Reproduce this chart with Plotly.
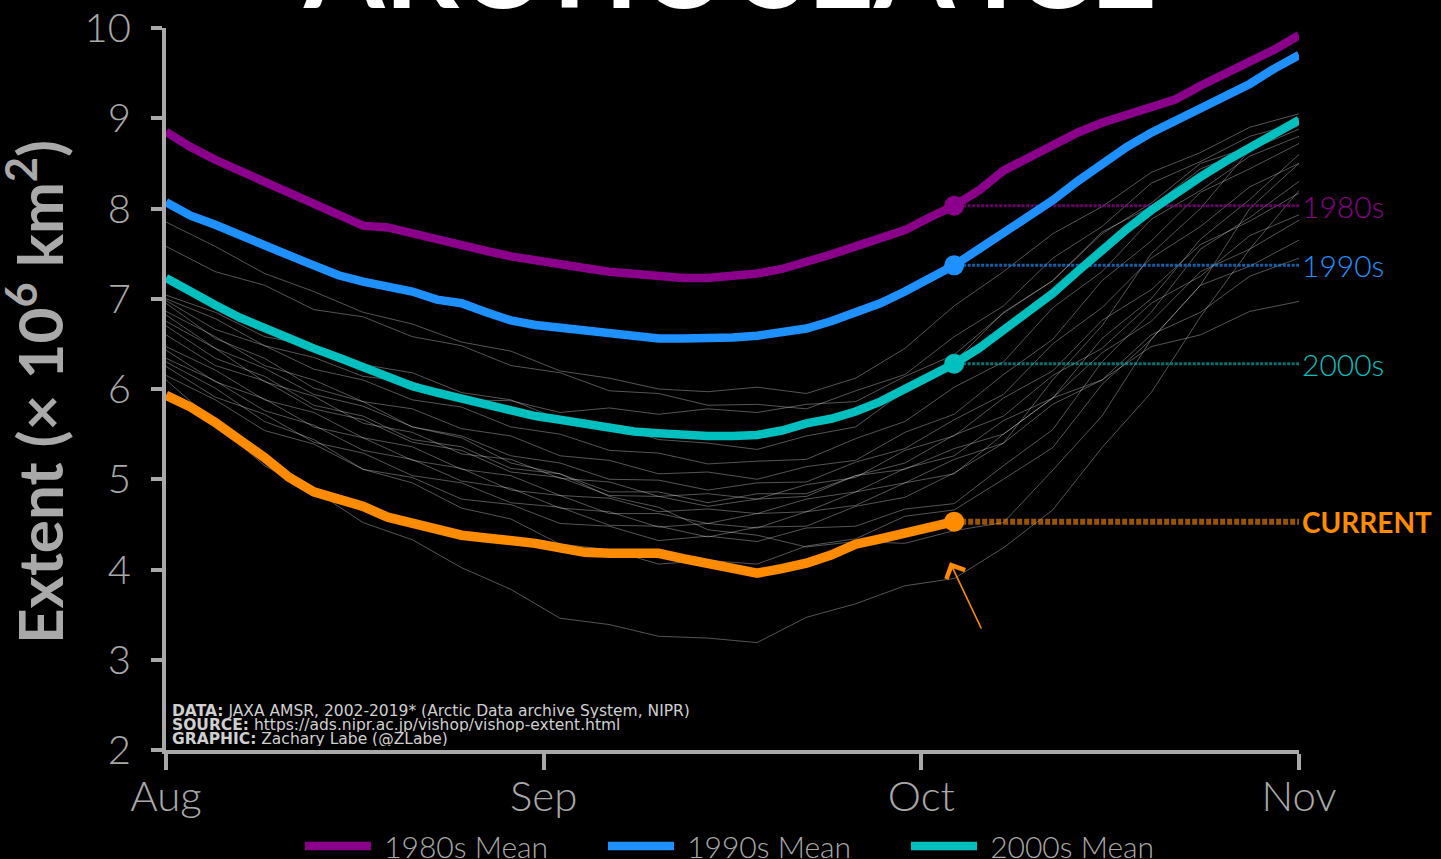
import plotly.graph_objects as go

# ---------------- data (days since Aug 1) ----------------
days_2 = list(range(0, 93, 2))      # means, every 2 days Aug 1 .. Nov 1
days_4 = list(range(0, 93, 4))      # individual years, every 4 days
days_cur = list(range(0, 65, 2))    # current year, up to early October

month_labels = ["Aug", "Sep", "Oct", "Nov"]
y_ticks = [2, 3, 4, 5, 6, 7, 8, 9, 10]

mean_1980s = [8.85, 8.68, 8.54, 8.42, 8.30, 8.17, 8.06, 7.92, 7.81, 7.79, 7.72, 7.66,
              7.60, 7.53, 7.47, 7.42, 7.37, 7.34, 7.30, 7.27, 7.25, 7.23, 7.23, 7.25,
              7.28, 7.33, 7.40, 7.49, 7.58, 7.66, 7.76, 7.90, 8.03, 8.20, 8.42, 8.56,
              8.70, 8.84, 8.95, 9.03, 9.13, 9.21, 9.36, 9.49, 9.62, 9.76, 9.92]
mean_1990s = [8.07, 7.92, 7.82, 7.70, 7.60, 7.48, 7.37, 7.26, 7.19, 7.13, 7.08, 6.99,
              6.95, 6.85, 6.76, 6.71, 6.68, 6.64, 6.61, 6.58, 6.56, 6.56, 6.56, 6.57,
              6.59, 6.63, 6.67, 6.75, 6.84, 6.95, 7.08, 7.22, 7.37, 7.55, 7.73, 7.91,
              8.09, 8.30, 8.50, 8.68, 8.84, 8.98, 9.12, 9.26, 9.38, 9.55, 9.70]
mean_2000s = [7.23, 7.07, 6.93, 6.79, 6.67, 6.56, 6.45, 6.35, 6.24, 6.13, 6.03, 5.96,
              5.89, 5.82, 5.76, 5.70, 5.66, 5.61, 5.57, 5.53, 5.51, 5.49, 5.48, 5.48,
              5.49, 5.54, 5.62, 5.67, 5.75, 5.86, 6.00, 6.14, 6.28, 6.45, 6.65, 6.85,
              7.06, 7.30, 7.54, 7.77, 7.98, 8.17, 8.35, 8.52, 8.68, 8.84, 8.98]
current = [5.93, 5.80, 5.63, 5.44, 5.24, 5.02, 4.86, 4.78, 4.70, 4.58, 4.51, 4.44,
           4.38, 4.35, 4.33, 4.29, 4.24, 4.19, 4.18, 4.19, 4.18, 4.12, 4.06, 4.00,
           3.96, 4.01, 4.07, 4.16, 4.28, 4.34, 4.41, 4.47, 4.53]

grey_01 = [7.85, 7.58, 7.28, 7.08, 6.85, 6.72, 6.52, 6.42, 6.20, 6.12, 6.00, 5.97, 6.02, 5.95, 6.12, 6.45, 6.92, 7.30, 7.72, 8.02, 8.40, 8.62, 8.90, 9.05]
grey_02 = [7.58, 7.30, 7.15, 6.88, 6.80, 6.58, 6.48, 6.26, 6.18, 5.98, 5.95, 5.82, 5.83, 5.78, 5.98, 6.16, 6.58, 6.92, 7.45, 7.80, 8.28, 8.52, 8.80, 8.95]
grey_03 = [7.04, 6.85, 6.58, 6.48, 6.27, 6.18, 5.96, 5.88, 5.66, 5.60, 5.44, 5.40, 5.33, 5.48, 5.58, 5.98, 6.30, 6.85, 7.20, 7.74, 8.02, 8.44, 8.65, 8.88]
grey_04 = [6.98, 6.66, 6.48, 6.22, 6.10, 5.88, 5.80, 5.58, 5.50, 5.32, 5.29, 5.17, 5.20, 5.22, 5.45, 5.64, 6.02, 6.30, 6.90, 7.30, 7.88, 8.20, 8.58, 8.80]
grey_05 = [6.86, 6.58, 6.26, 6.10, 5.86, 5.78, 5.56, 5.48, 5.26, 5.21, 5.06, 5.08, 5.00, 5.14, 5.21, 5.52, 5.72, 6.16, 6.55, 7.20, 7.64, 8.18, 8.44, 8.72]
grey_06 = [6.82, 6.45, 6.23, 5.94, 5.81, 5.58, 5.48, 5.26, 5.18, 5.00, 4.99, 4.88, 4.96, 4.97, 5.19, 5.34, 5.66, 5.94, 6.50, 6.90, 7.45, 7.80, 8.24, 8.50]
grey_07 = [6.75, 6.45, 6.08, 5.92, 5.62, 5.52, 5.28, 5.22, 5.01, 4.97, 4.81, 4.84, 4.78, 4.94, 5.02, 5.32, 5.48, 5.90, 6.20, 6.76, 7.10, 7.60, 7.86, 8.17]
grey_08 = [6.60, 6.26, 6.09, 5.78, 5.66, 5.41, 5.32, 5.08, 5.02, 4.82, 4.81, 4.70, 4.78, 4.81, 5.04, 5.18, 5.49, 5.70, 6.15, 6.45, 6.95, 7.25, 7.70, 7.93]
grey_09 = [6.47, 6.21, 5.88, 5.74, 5.46, 5.36, 5.11, 5.04, 4.82, 4.79, 4.64, 4.67, 4.62, 4.78, 4.86, 5.12, 5.26, 5.65, 5.90, 6.40, 6.75, 7.30, 7.55, 7.87]
grey_10 = [6.43, 6.08, 5.89, 5.58, 5.46, 5.21, 5.12, 4.88, 4.82, 4.62, 4.62, 4.51, 4.62, 4.64, 4.86, 4.96, 5.22, 5.40, 5.83, 6.10, 6.60, 6.85, 7.25, 7.45]
grey_11 = [6.34, 6.09, 5.76, 5.60, 5.32, 5.22, 4.98, 4.90, 4.68, 4.64, 4.47, 4.51, 4.46, 4.64, 4.71, 4.96, 5.06, 5.50, 5.90, 6.56, 7.00, 7.66, 8.10, 8.60]
grey_12 = [6.25, 5.91, 5.72, 5.41, 5.29, 5.04, 4.96, 4.74, 4.69, 4.49, 4.48, 4.36, 4.47, 4.48, 4.70, 4.80, 5.07, 5.40, 6.10, 6.70, 7.50, 8.00, 8.65, 9.00]
grey_13 = [6.15, 5.88, 5.54, 5.39, 5.11, 5.02, 4.78, 4.72, 4.51, 4.48, 4.32, 4.37, 4.31, 4.46, 4.48, 4.67, 4.73, 5.15, 5.55, 6.30, 6.85, 7.55, 7.90, 8.30]
grey_14 = [6.10, 5.62, 5.15, 4.88, 4.52, 4.33, 4.02, 3.78, 3.46, 3.39, 3.26, 3.24, 3.19, 3.47, 3.62, 3.82, 3.90, 4.24, 4.66, 5.35, 5.96, 6.80, 7.55, 8.20]
grey_15 = [6.95, 6.56, 6.34, 6.01, 5.86, 5.58, 5.46, 5.18, 5.06, 4.81, 4.69, 4.44, 4.38, 4.25, 4.31, 4.29, 4.43, 4.52, 5.10, 5.70, 6.55, 7.15, 8.00, 8.50]
grey_16 = [7.00, 6.78, 6.48, 6.35, 6.14, 6.08, 5.88, 5.87, 5.74, 5.79, 5.72, 5.78, 5.74, 5.83, 5.86, 6.14, 6.38, 6.84, 7.20, 7.72, 8.06, 8.50, 8.68, 8.92]
grey_17 = [6.70, 6.34, 6.14, 5.82, 5.70, 5.44, 5.36, 5.12, 5.06, 4.86, 4.86, 4.74, 4.84, 4.84, 5.04, 5.11, 5.34, 5.50, 5.90, 6.10, 6.47, 6.60, 6.86, 6.97]
grey_18 = [6.30, 6.01, 5.64, 5.44, 5.11, 4.96, 4.68, 4.56, 4.28, 4.22, 4.06, 4.10, 4.06, 4.26, 4.34, 4.59, 4.66, 5.00, 5.35, 6.05, 6.55, 7.15, 7.36, 7.65]

grey_years = [grey_01, grey_02, grey_03, grey_04, grey_05, grey_06, grey_07, grey_08, grey_09,
              grey_10, grey_11, grey_12, grey_13, grey_14, grey_15, grey_16, grey_17, grey_18]

# ---------------- styles ----------------
PURPLE = "#8B008B"
BLUE = "#1E90FF"
TEAL = "#00BFBF"
ORANGE = "#FF8C00"
GREY = "#a9a9a9"
FONT = "Lato"
NBSP = "\u00a0"

fig = go.Figure()

for g in grey_years:
    fig.add_trace(go.Scatter(x=days_4, y=g, mode="lines", showlegend=False, hoverinfo="skip",
                             line=dict(color="rgba(255,255,255,0.33)", width=1)))

means = [("1980s", mean_1980s, PURPLE, "rgba(139,0,139,0.75)"),
         ("1990s", mean_1990s, BLUE, "rgba(30,144,255,0.65)"),
         ("2000s", mean_2000s, TEAL, "rgba(0,191,191,0.6)")]

last_day = days_cur[-1]
idx = days_2.index(last_day)

# dotted reference lines from the current date to the right edge
for name, vals, col, dcol in means:
    v = vals[idx]
    fig.add_trace(go.Scatter(x=[last_day, days_2[-1]], y=[v, v], mode="lines", showlegend=False,
                             hoverinfo="skip", line=dict(color=dcol, width=3, dash="3px,1.5px")))
fig.add_trace(go.Scatter(x=[last_day, days_2[-1]], y=[current[-1], current[-1]], mode="lines",
                         showlegend=False, hoverinfo="skip",
                         line=dict(color="rgba(255,140,0,0.6)", width=6, dash="5px,2px")))

for name, vals, col, dcol in means:
    fig.add_trace(go.Scatter(x=days_2, y=vals, mode="lines", name=NBSP + name + " Mean",
                             line=dict(color=col, width=8.5)))

fig.add_trace(go.Scatter(x=days_cur, y=current, mode="lines", showlegend=False,
                         line=dict(color=ORANGE, width=9.5)))

for name, vals, col, dcol in means:
    fig.add_trace(go.Scatter(x=[last_day], y=[vals[idx]], mode="markers", showlegend=False,
                             marker=dict(color=col, size=20)))
fig.add_trace(go.Scatter(x=[last_day], y=[current[-1]], mode="markers", showlegend=False,
                         marker=dict(color=ORANGE, size=20)))

# ---------------- annotations ----------------
ann = []
for name, vals, col, dcol in means:
    ann.append(dict(x=days_2[-1], y=vals[idx], xref="x", yref="y", text=name, showarrow=False,
                    xanchor="left", yanchor="middle", xshift=1,
                    font=dict(family=FONT, size=30, color=col, weight=300)))
ann.append(dict(x=days_2[-1], y=current[-1], xref="x", yref="y", text="<b>CURRENT</b>", showarrow=False,
                xanchor="left", yanchor="middle", xshift=1,
                font=dict(family=FONT, size=28, color=ORANGE)))

ann.append(dict(x=0.498, y=0.990, xref="paper", yref="paper", text="<b>ARCTIC SEA ICE</b>",
                showarrow=False, xanchor="center", yanchor="bottom",
                font=dict(family=FONT, size=116, color="white")))

ann.append(dict(x=-0.1156, y=0.4958, xref="paper", yref="paper", textangle=-90,
                text="<b>Extent (× 10<sup>6</sup> km<sup>2</sup>)</b>", showarrow=False,
                xanchor="center", yanchor="middle",
                font=dict(family=FONT, size=62, color=GREY)))

src_lines = ["<b>DATA:</b> JAXA AMSR, 2002-2019* (Arctic Data archive System, NIPR)",
             "<b>SOURCE:</b> https://ads.nipr.ac.jp/vishop/vishop-extent.html",
             "<b>GRAPHIC:</b> Zachary Labe (@ZLabe)"]
src_y = [0.054, 0.0346, 0.0152]
for t, yy in zip(src_lines, src_y):
    ann.append(dict(x=0, y=yy, xref="paper", yref="paper", text=t, showarrow=False,
                    xanchor="left", yanchor="middle", xshift=4, height=14, valign="middle",
                    font=dict(family="DejaVu Sans", size=15.5, color="#d0d0d0")))

ann.append(dict(x=63.66, y=4.08, ax=66.26, ay=3.33, xref="x", yref="y", axref="x", ayref="y",
                text="", showarrow=True, arrowhead=4, arrowsize=2.5, arrowwidth=1.6,
                arrowcolor=ORANGE, standoff=0))

fig.update_layout(
    width=1441, height=859,
    paper_bgcolor="black", plot_bgcolor="black",
    margin=dict(l=166, r=142, t=28, b=109, autoexpand=False),
    annotations=ann,
    showlegend=True,
    legend=dict(orientation="h", x=(300 - 166) / 1133, xanchor="left", y=-0.133, yanchor="middle",
                font=dict(family=FONT, size=30, color=GREY, weight=300),
                bgcolor="rgba(0,0,0,0)", entrywidth=222, entrywidthmode="pixels",
                itemwidth=66),
    xaxis=dict(range=[0, 92], tickvals=[0, 92 / 3, 184 / 3, 92], ticktext=month_labels,
               showgrid=False, zeroline=False, showline=True, linecolor=GREY, linewidth=4,
               ticks="outside", ticklen=16, tickwidth=4, tickcolor=GREY, ticklabelstandoff=-9,
               tickfont=dict(family=FONT, size=42, color=GREY, weight=300)),
    yaxis=dict(range=[2, 10], tickvals=y_ticks, ticktext=[str(t) for t in y_ticks],
               showgrid=False, zeroline=False, showline=True, linecolor=GREY, linewidth=4,
               ticks="outside", ticklen=11, tickwidth=4, tickcolor=GREY, ticklabelstandoff=12,
               tickfont=dict(family=FONT, size=40, color=GREY, weight=300)),
)

fig.write_html("out.html", config={"displayModeBar": False},
               post_script="document.body.style.margin='0px';document.body.style.overflow='hidden';")
